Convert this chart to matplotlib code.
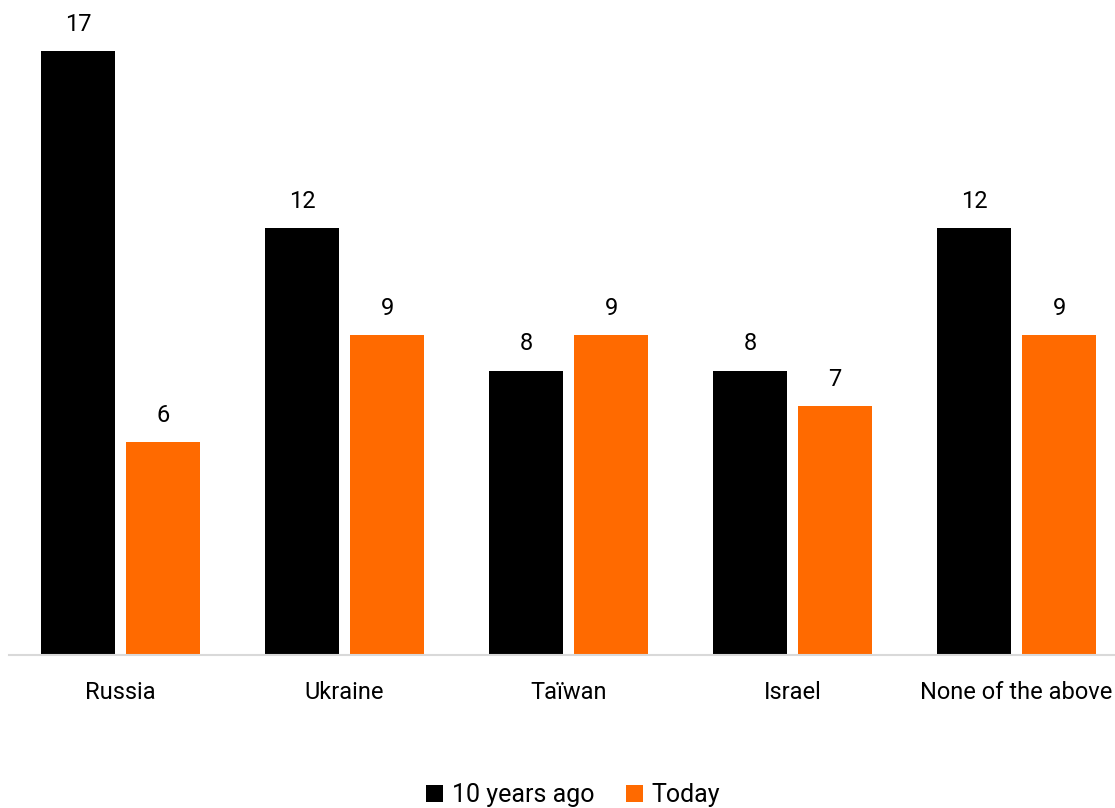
import matplotlib.pyplot as plt
import numpy as np

categories = ["Russia", "Ukraine", "Taïwan", "Israel", "None of the above"]
ten_years_ago = [17, 12, 8, 8, 12]
today = [6, 9, 9, 7, 9]

BLACK = "#000000"
ORANGE = "#FF6A00"

plt.rcParams["font.family"] = ["Roboto", "DejaVu Sans"]

fig = plt.figure(figsize=(11.15, 8.08), dpi=100)
W, H = 1115, 808
# axes spans past the right edge so the last group sits like the others
ax = fig.add_axes([8.5 / W, (H - 655) / H, 1120 / W, 18 * 35.55 / H])

x = np.arange(len(categories))
width = 0.33
off = 0.19

b1 = ax.bar(x - off, ten_years_ago, width, color=BLACK, label="10 years ago")
b2 = ax.bar(x + off, today, width, color=ORANGE, label="Today")

for bars, vals in ((b1, ten_years_ago), (b2, today)):
    for bar, v in zip(bars, vals):
        ax.annotate(str(v), (bar.get_x() + bar.get_width() / 2, v),
                    xytext=(0, 14.5), textcoords="offset points",
                    ha="center", va="baseline", fontsize=17, color="#000000")

ax.set_xlim(-0.5, 4.5)
ax.set_ylim(0, 18)
ax.set_xticks(x)
ax.set_xticklabels(categories, fontsize=17)
ax.tick_params(axis="x", length=0, pad=19)
ax.set_yticks([])
for s in ("top", "right", "left"):
    ax.spines[s].set_visible(False)
ax.spines["bottom"].set_color("#D9D9D9")
ax.spines["bottom"].set_linewidth(1.5)

fig.legend(handles=[b1, b2], loc="center", ncol=2, frameon=False,
           bbox_to_anchor=(573 / W, 1 - 795 / H), fontsize=18,
           handlelength=0.7, handleheight=0.7, handletextpad=0.35,
           columnspacing=1.25)

fig.savefig("out.png", dpi=100)
